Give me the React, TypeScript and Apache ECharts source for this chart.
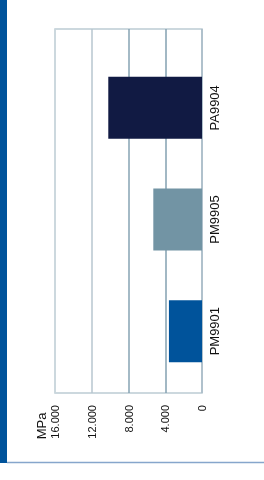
import React, { useEffect, useRef } from "react";
import * as echarts from "echarts";

const categories = ["PM9901", "PM9905", "PA9904"];
const values = [3600, 5300, 10200];
const barColors = ["#00539b", "#7294a4", "#111a43"];
const unit = "MPa";
const axisMin = 0;
const axisMax = 16000;
const axisStep = 4000;

export default function App() {
  const ref = useRef<HTMLDivElement>(null);
  useEffect(() => {
    if (!ref.current) return;
    const chart = echarts.init(ref.current, null, { renderer: "svg" });
    const font = "'Liberation Sans', Arial, Helvetica, sans-serif";
    chart.setOption({
      animation: false,
      textStyle: { fontFamily: font },
      grid: [
        {
          left: 55,
          right: 62,
          top: 29,
          bottom: 87,
          show: true,
          borderColor: "#bccbd3",
          borderWidth: 1.5,
          containLabel: false,
        },
        { left: 55, right: 62, top: 52, bottom: 93, containLabel: false },
      ],
      xAxis: [
        {
          gridIndex: 0,
          type: "value",
          min: axisMin,
          max: axisMax,
          interval: axisStep,
          inverse: true,
          axisLine: { show: false },
          axisTick: { show: false },
          splitLine: {
            show: true,
            lineStyle: {
              color: ["#a7bac6", "#83a1b1", "#86a3b3", "#b7c6cf", "#cdd8de"],
              width: 1.5,
            },
          },
          axisLabel: {
            rotate: 90,
            fontSize: 11,
            color: "#111",
            margin: 12,
            fontFamily: font,
            formatter: (v: number) => v.toLocaleString("de-DE"),
          },
        },
        {
          gridIndex: 1,
          type: "value",
          min: axisMin,
          max: axisMax,
          inverse: true,
          show: false,
        },
      ],
      yAxis: [
        {
          gridIndex: 0,
          type: "value",
          show: false,
        },
        {
          gridIndex: 1,
          type: "category",
          data: categories,
          position: "right",
          axisLine: { show: false },
          axisTick: { show: false },
          axisLabel: {
            rotate: 90,
            fontSize: 13,
            color: "#111",
            margin: 6,
            fontFamily: font,
          },
        },
      ],
      series: [
        {
          type: "bar",
          xAxisIndex: 1,
          yAxisIndex: 1,
          barWidth: 62,
          data: values.map((v, i) => ({ value: v, itemStyle: { color: barColors[i] } })),
        },
      ],
      graphic: [
        {
          type: "rect",
          shape: { x: 0, y: 0, width: 7, height: 463 },
          style: { fill: "#00539b" },
        },
        {
          type: "line",
          shape: { x1: 7, y1: 462.5, x2: 264, y2: 462.5 },
          style: { stroke: "#86a6cc", lineWidth: 1.5 },
        },
        {
          type: "text",
          x: 41,
          y: 426,
          rotation: Math.PI / 2,
          style: {
            text: unit,
            fontSize: 13,
            fill: "#111",
            fontFamily: font,
            align: "center",
            verticalAlign: "middle",
          },
        },
      ],
    });
    return () => chart.dispose();
  }, []);
  return (
    <div
      ref={ref}
      style={{ position: "fixed", left: 0, top: 0, width: 264, height: 480 }}
    />
  );
}
